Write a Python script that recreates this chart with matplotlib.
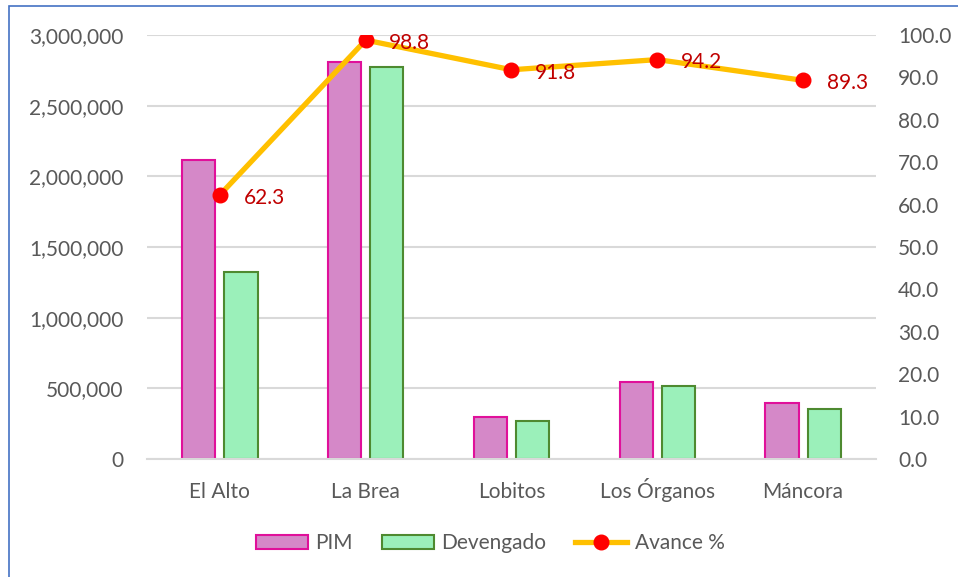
import matplotlib
matplotlib.use("Agg")
import matplotlib.pyplot as plt
from matplotlib.patches import Rectangle
from matplotlib.lines import Line2D
import numpy as np

categories = ["El Alto", "La Brea", "Lobitos", "Los Órganos", "Máncora"]
pim = [2115000, 2809000, 295000, 547000, 396000]
devengado = [1323000, 2775000, 271000, 515000, 354000]
avance = [62.3, 98.8, 91.8, 94.2, 89.3]
left_ticks = [0, 500000, 1000000, 1500000, 2000000, 2500000, 3000000]
right_ticks = [0, 10, 20, 30, 40, 50, 60, 70, 80, 90, 100]

plt.rcParams['font.family'] = ['Lato', 'DejaVu Sans']
FS = 15
W, H = 958, 577
fig = plt.figure(figsize=(W/100, H/100), dpi=100)
ax = fig.add_axes([147/W, 1-459/H, (876-147)/W, (459-35)/H])
ax2 = ax.twinx()

x = np.arange(len(categories))
bw = 0.228
ax.bar(x - 0.145, pim, bw, color="#D588C8", edgecolor="#E0109A", linewidth=1.5, label="PIM", zorder=2)
ax.bar(x + 0.145, devengado, bw, color="#9BF0BA", edgecolor="#4E8A30", linewidth=1.5, label="Devengado", zorder=2)

ax.set_xlim(-0.5, len(categories) - 0.5)
ax.set_ylim(0, 3000000)
ax.set_yticks(left_ticks)
ax.set_yticklabels([f"{v:,.0f}" for v in left_ticks])
ax.set_xticks(x)
ax.set_xticklabels(categories, va="baseline")
ax.grid(axis='y', color="#D9D9D9", linewidth=1.5, zorder=0)
ax.set_axisbelow(True)
for s in ["top", "right", "left"]:
    ax.spines[s].set_visible(False)
    ax2.spines[s].set_visible(False)
ax.spines["bottom"].set_color("#D9D9D9")
ax.spines["bottom"].set_linewidth(1.5)
ax2.spines["bottom"].set_visible(False)
ax.tick_params(axis='y', length=0, labelsize=FS, colors="#595959", pad=17)
ax.tick_params(axis='x', length=0, labelsize=FS, colors="#595959", pad=28)

ax2.plot(x, avance, color="#FFC000", linewidth=3.8, marker='o', markersize=10.5,
         markerfacecolor="#FF0000", markeredgecolor="#FF0000", zorder=3)
ax2.set_ylim(0, 100)
ax2.set_yticks(right_ticks)
ax2.set_yticklabels([f"{v:.1f}" for v in right_ticks])
ax2.tick_params(axis='y', length=0, labelsize=FS, colors="#595959", pad=16)
for xi, v in zip(x, avance):
    ax2.annotate(f"{v:.1f}", (xi, v), xytext=(17, -2), textcoords="offset points",
                 ha="left", va="center", color="#C00000", fontsize=FS, zorder=4)

handles = [
    Rectangle((0, 0), 1, 1, facecolor="#D588C8", edgecolor="#E0109A", linewidth=1.5),
    Rectangle((0, 0), 1, 1, facecolor="#9BF0BA", edgecolor="#4E8A30", linewidth=1.5),
    Line2D([0], [0], color="#FFC000", linewidth=3.8, marker='o', markersize=10.5,
           markerfacecolor="#FF0000", markeredgecolor="#FF0000"),
]
leg = fig.legend(handles, ["PIM", "Devengado", "Avance %"], loc="center",
                 bbox_to_anchor=(490/W, 1-543/H), ncol=3, frameon=False,
                 fontsize=FS, handlelength=2.5, handleheight=0.67, columnspacing=1.4,
                 handletextpad=0.35)
for t in leg.get_texts():
    t.set_color("#595959")

fig.patches.append(Rectangle((9/W, -0.1), 1.2, 1 - 6/H + 0.1, transform=fig.transFigure,
                             fill=False, edgecolor="#4472C4", linewidth=1.2))

fig.savefig("out.png", dpi=100)
